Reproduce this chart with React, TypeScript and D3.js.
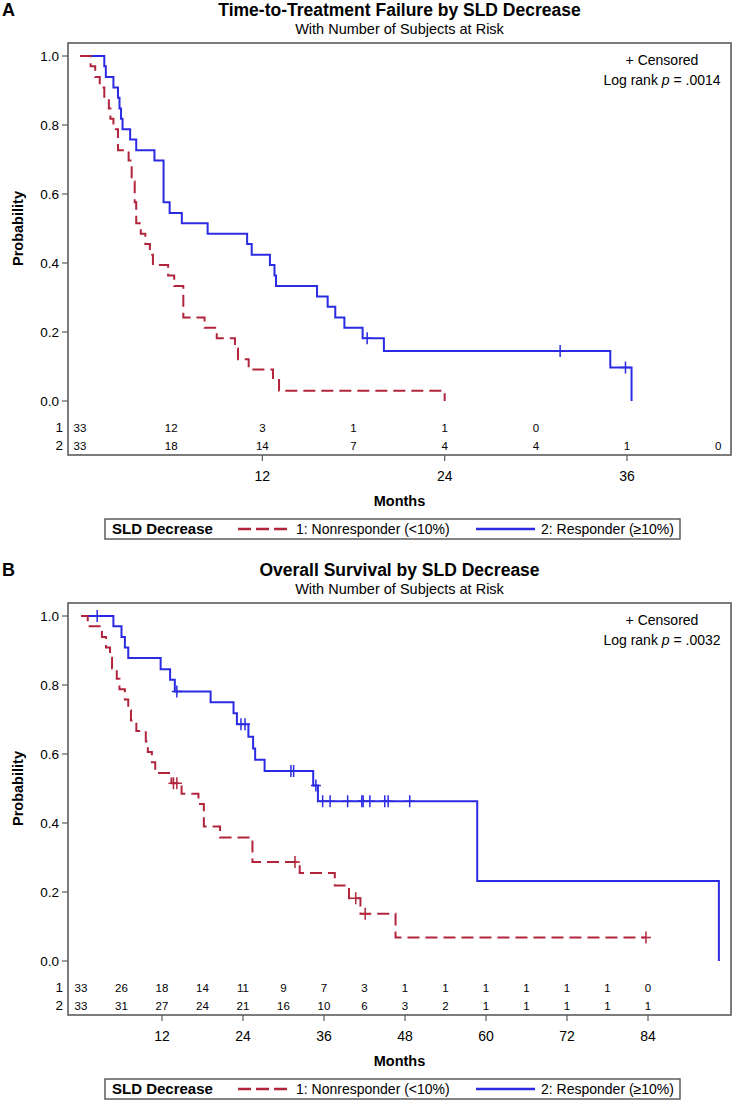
import React from 'react';
import * as d3 from 'd3';

type Pt = [number, number];

// ---------- Panel A: Time-to-Treatment Failure ----------
const ttfNonresponder: Pt[] = [
  [0, 1], [0.7, 0.970], [1.0, 0.939], [1.3, 0.909], [1.6, 0.879], [1.9, 0.848], [2.0, 0.818],
  [2.2, 0.788], [2.5, 0.727], [3.2, 0.697], [3.4, 0.636], [3.6, 0.576], [3.7, 0.515],
  [4.0, 0.485], [4.3, 0.455], [4.6, 0.424], [4.8, 0.394], [5.8, 0.364], [6.2, 0.333],
  [6.8, 0.242], [8.2, 0.212], [9.0, 0.182], [10.2, 0.152], [10.4, 0.121], [11.1, 0.091],
  [12.7, 0.061], [13.1, 0.030], [24.0, 0],
];
const ttfResponder: Pt[] = [
  [0, 1], [1.6, 0.970], [1.7, 0.939], [2.2, 0.909], [2.5, 0.879], [2.6, 0.848], [2.7, 0.818],
  [2.8, 0.788], [3.3, 0.758], [3.7, 0.727], [4.9, 0.697], [5.5, 0.576], [5.9, 0.545],
  [6.7, 0.515], [8.4, 0.485], [11.0, 0.455], [11.3, 0.424], [12.5, 0.394], [12.8, 0.364],
  [12.9, 0.333], [15.6, 0.303], [16.3, 0.273], [16.8, 0.242], [17.4, 0.212], [18.6, 0.182],
  [20.0, 0.145], [34.9, 0.097], [36.3, 0],
];
const ttfNonCensored: Pt[] = [];
const ttfRespCensored: Pt[] = [[18.9, 0.182], [31.6, 0.145], [35.9, 0.097]];
const ttfRiskTimes = [0, 6, 12, 18, 24, 30, 36, 42];
const ttfRisk1 = [33, 12, 3, 1, 1, 0];
const ttfRisk2 = [33, 18, 14, 7, 4, 4, 1, 0];
const ttfXTicks = [12, 24, 36];

// ---------- Panel B: Overall Survival ----------
const osNonresponder: Pt[] = [
  [0, 1], [1.0, 0.970], [3.1, 0.939], [3.7, 0.909], [4.3, 0.879], [4.6, 0.848], [5.3, 0.818],
  [5.7, 0.788], [6.5, 0.758], [7.0, 0.727], [7.4, 0.697], [8.2, 0.667], [9.6, 0.636],
  [9.9, 0.606], [10.5, 0.576], [11.0, 0.545], [13.4, 0.515], [14.9, 0.485], [17.4, 0.455],
  [18.2, 0.390], [20.6, 0.358], [25.4, 0.287], [32.4, 0.255], [37.6, 0.219], [39.7, 0.182],
  [41.4, 0.137], [46.6, 0.068], [83.7, 0.068],
];
const osResponder: Pt[] = [
  [0, 1], [4.8, 0.970], [6.0, 0.939], [6.5, 0.909], [7.0, 0.878], [11.8, 0.846], [13.2, 0.815],
  [13.9, 0.781], [19.2, 0.750], [22.6, 0.718], [23.1, 0.686], [24.8, 0.650], [25.5, 0.616],
  [25.8, 0.583], [27.2, 0.551], [34.4, 0.509], [35.1, 0.463], [58.7, 0.232], [94.5, 0],
];
const osNonCensored: Pt[] = [[13.7, 0.515], [14.2, 0.515], [31.7, 0.287], [40.7, 0.182], [42.1, 0.137], [83.7, 0.068]];
const osRespCensored: Pt[] = [
  [2.4, 1], [14.2, 0.781], [23.7, 0.686], [24.3, 0.686], [31.1, 0.551], [31.5, 0.551], [34.8, 0.509],
  [35.8, 0.463], [36.9, 0.463], [39.5, 0.463], [41.6, 0.463], [41.8, 0.463], [42.8, 0.463],
  [45.0, 0.463], [45.5, 0.463], [48.7, 0.463],
];
const osRiskTimes = [0, 6, 12, 18, 24, 30, 36, 42, 48, 54, 60, 66, 72, 78, 84];
const osRisk1 = [33, 26, 18, 14, 11, 9, 7, 3, 1, 1, 1, 1, 1, 1, 0];
const osRisk2 = [33, 31, 27, 24, 21, 16, 10, 6, 3, 2, 1, 1, 1, 1, 1];
const osXTicks = [12, 24, 36, 48, 60, 72, 84];

const yTicks = [0, 0.2, 0.4, 0.6, 0.8, 1.0];
const legendTitle = 'SLD Decrease';
const groupLabels = ['1: Nonresponder (<10%)', '2: Responder (\u226510%)'];

const FONT = "'Liberation Sans', Arial, Helvetica, sans-serif";
const RED = '#B1243C';
const BLUE = '#2B2BE3';
const FRAME = '#5c5c5c';
const DASH = '12 6';

interface PanelProps {
  oy: number;
  letter: string;
  title: string;
  pValue: string;
  xDomain: [number, number];
  xRange: [number, number];
  xTicks: number[];
  red: Pt[];
  blue: Pt[];
  redCens: Pt[];
  blueCens: Pt[];
  riskTimes: number[];
  risk1: number[];
  risk2: number[];
}

function Panel(p: PanelProps) {
  const { oy } = p;
  const boxL = 68, boxR = 731, boxT = oy + 43, boxB = oy + 455;
  const x = d3.scaleLinear().domain(p.xDomain).range(p.xRange);
  const y = d3.scaleLinear().domain([0, 1]).range([oy + 401, oy + 56]);
  const line = d3.line<Pt>().x(d => x(d[0])).y(d => y(d[1])).curve(d3.curveStepAfter);
  const fmt = d3.format('.1f');
  const cross = (d: Pt) => {
    const cx = x(d[0]), cy = y(d[1]);
    return `M${cx - 5},${cy}H${cx + 5}M${cx},${cy - 6}V${cy + 6}`;
  };
  const cx = (boxL + boxR) / 2;
  const row1 = oy + 432, row2 = oy + 450;
  return (
    <g fontFamily={FONT}>
      <text x={2} y={oy + 16} fontSize={18} fontWeight="bold">{p.letter}</text>
      <text x={cx} y={oy + 16} fontSize={17.5} fontWeight="bold" textAnchor="middle">{p.title}</text>
      <text x={cx} y={oy + 34} fontSize={14.5} textAnchor="middle">With Number of Subjects at Risk</text>

      <rect x={boxL} y={boxT} width={boxR - boxL} height={boxB - boxT} fill="none" stroke={FRAME} strokeWidth={1.6} />

      {yTicks.map(t => (
        <g key={t}>
          <line x1={boxL - 6} x2={boxL} y1={y(t)} y2={y(t)} stroke={FRAME} strokeWidth={1.2} />
          <text x={boxL - 9} y={y(t) + 4.5} fontSize={13.5} textAnchor="end">{fmt(t)}</text>
        </g>
      ))}
      <text transform={`translate(23,${(y(0) + y(1)) / 2}) rotate(-90)`} fontSize={14.5} fontWeight="bold" textAnchor="middle">Probability</text>

      {p.xTicks.map(t => (
        <g key={t}>
          <line x1={x(t)} x2={x(t)} y1={boxB} y2={boxB + 6} stroke={FRAME} strokeWidth={1.2} />
          <text x={x(t)} y={oy + 481} fontSize={14} textAnchor="middle">{t}</text>
        </g>
      ))}
      <text x={cx} y={oy + 506} fontSize={14.5} fontWeight="bold" textAnchor="middle">Months</text>

      <text x={boxL - 5} y={row1} fontSize={13.5} textAnchor="end">1</text>
      <text x={boxL - 5} y={row2} fontSize={13.5} textAnchor="end">2</text>
      {p.risk1.map((v, i) => (
        <text key={'a' + i} x={x(p.riskTimes[i])} y={row1} fontSize={11.5} textAnchor="middle">{v}</text>
      ))}
      {p.risk2.map((v, i) => (
        <text key={'b' + i} x={x(p.riskTimes[i])} y={row2} fontSize={11.5} textAnchor="middle">{v}</text>
      ))}

      <text x={662} y={oy + 65} fontSize={14} textAnchor="middle">+ Censored</text>
      <text x={662} y={oy + 85} fontSize={14} textAnchor="middle">
        Log rank <tspan fontStyle="italic">p</tspan> = {p.pValue}
      </text>

      <path d={line(p.blue) || ''} fill="none" stroke={BLUE} strokeWidth={2} />
      <path d={line(p.red) || ''} fill="none" stroke={RED} strokeWidth={2} strokeDasharray={DASH} />
      {p.blueCens.map((d, i) => (
        <path key={'bc' + i} d={cross(d)} stroke={BLUE} strokeWidth={1.5} fill="none" />
      ))}
      {p.redCens.map((d, i) => (
        <path key={'rc' + i} d={cross(d)} stroke={RED} strokeWidth={1.5} fill="none" />
      ))}

      <rect x={105} y={oy + 519} width={575} height={20} fill="none" stroke={FRAME} strokeWidth={1.5} />
      <text x={112} y={oy + 534} fontSize={15} fontWeight="bold">{legendTitle}</text>
      <line x1={238} x2={290} y1={oy + 529} y2={oy + 529} stroke={RED} strokeWidth={2.5} strokeDasharray="13 5" />
      <text x={296} y={oy + 534} fontSize={14}>{groupLabels[0]}</text>
      <line x1={476} x2={535} y1={oy + 529} y2={oy + 529} stroke={BLUE} strokeWidth={2.5} />
      <text x={541} y={oy + 534} fontSize={14}>{groupLabels[1]}</text>
    </g>
  );
}

export default function App() {
  return (
    <div style={{ position: 'absolute', left: 0, top: 0, width: 734, height: 1101, background: '#fff' }}>
      <svg width={734} height={1101} viewBox="0 0 734 1101" style={{ display: 'block' }}>
        <rect width={734} height={1101} fill="#fff" />
        <Panel
          oy={0}
          letter="A"
          title="Time-to-Treatment Failure by SLD Decrease"
          pValue=".0014"
          xDomain={[0, 36]}
          xRange={[80, 627]}
          xTicks={ttfXTicks}
          red={ttfNonresponder}
          blue={ttfResponder}
          redCens={ttfNonCensored}
          blueCens={ttfRespCensored}
          riskTimes={ttfRiskTimes}
          risk1={ttfRisk1}
          risk2={ttfRisk2}
        />
        <Panel
          oy={560}
          letter="B"
          title="Overall Survival by SLD Decrease"
          pValue=".0032"
          xDomain={[0, 84]}
          xRange={[81, 648]}
          xTicks={osXTicks}
          red={osNonresponder}
          blue={osResponder}
          redCens={osNonCensored}
          blueCens={osRespCensored}
          riskTimes={osRiskTimes}
          risk1={osRisk1}
          risk2={osRisk2}
        />
      </svg>
    </div>
  );
}
